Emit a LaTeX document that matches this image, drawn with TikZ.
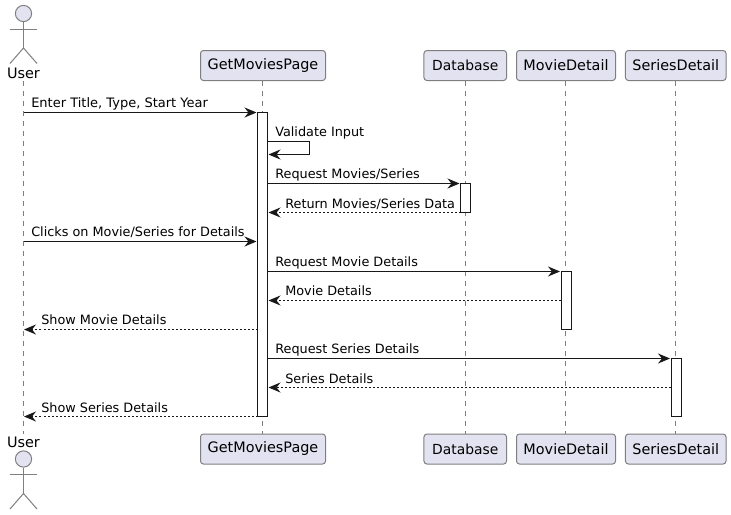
\documentclass[tikz,border=0pt]{standalone}
\usepackage{fontspec}
\setmainfont{DejaVu Sans}
\usetikzlibrary{arrows.meta}
\definecolor{partfill}{HTML}{E2E2F0}
\definecolor{partline}{HTML}{7F7F7F}
\definecolor{ink}{HTML}{181818}
\tikzset{
  x=0.75pt,y=-0.75pt,
  part/.style={draw=partline,fill=partfill,line width=0.75pt,rounded corners=2.2pt,inner sep=0pt,minimum height=22.5pt,font=\fontsize{10.8}{12}\selectfont,text=black},
  partsmall/.style={part,font=\fontsize{10.4}{12}\selectfont},
  actorlabel/.style={inner sep=0pt,font=\fontsize{10.8}{12}\selectfont,text=black},
  lifeline/.style={draw=partline,line width=0.75pt,dash pattern=on 3.75pt off 3.75pt},
  bar/.style={draw=ink,fill=white,line width=0.75pt,inner sep=0pt,minimum width=7.5pt},
  stick/.style={draw=partline,line width=0.75pt},
  head/.style={draw=partline,fill=partfill,line width=0.75pt,circle,inner sep=0pt,minimum size=12.2pt},
  msg/.style={draw=ink,line width=0.75pt,-{Stealth[length=9pt,width=7.5pt,inset=3pt]}},
  reply/.style={msg,dash pattern=on 1.5pt off 1.5pt},
  msglabel/.style={inner sep=0pt,anchor=base west,font=\fontsize{9.62}{12}\selectfont,text=black},
  msglabelwide/.style={msglabel,font=\fontsize{9.75}{12}\selectfont},
}
\begin{document}
\begin{tikzpicture}
\useasboundingbox (0,0) rectangle (731,514);
% top participants
\node[actorlabel] (userT) at (23.5,73) {User};
\node[part,minimum width=93.75pt] (gmpT) at (263,65.5) {GetMoviesPage};
\node[partsmall,minimum width=61.9pt] (dbT) at (465.25,65.5) {Database};
\node[part,minimum width=74.25pt] (mdT) at (566,65.5) {MovieDetail};
\node[part,minimum width=75.4pt] (sdT) at (675.75,65.5) {SeriesDetail};
% bottom participants
\node[actorlabel] (userB) at (23.5,442) {User};
\node[part,minimum width=93.75pt] (gmpB) at (263,449) {GetMoviesPage};
\node[partsmall,minimum width=61.9pt] (dbB) at (465.25,449) {Database};
\node[part,minimum width=74.25pt] (mdB) at (566,449) {MovieDetail};
\node[part,minimum width=75.4pt] (sdB) at (675.75,449) {SeriesDetail};
% lifelines
\coordinate (uTop) at (23.5,81);
\coordinate (uBot) at (23.5,434);
\coordinate (gTop) at (262.5,81);
\coordinate (gBot) at (262.5,434);
\coordinate (dTop) at (465,81);
\coordinate (dBot) at (465,434);
\coordinate (mTop) at (565,81);
\coordinate (mBot) at (565,434);
\coordinate (sTop) at (675,81);
\coordinate (sBot) at (675,434);
\draw[lifeline] (uTop) -- (uBot);
\draw[lifeline] (gTop) -- (gBot);
\draw[lifeline] (dTop) -- (dBot);
\draw[lifeline] (mTop) -- (mBot);
\draw[lifeline] (sTop) -- (sBot);
% activation bars
\node[bar,minimum height=228pt] (gBar) at (262.5,264.5) {};
\node[bar,minimum height=21.75pt] (dBar) at (465.5,198) {};
\node[bar,minimum height=43.5pt] (mBar) at (566,300) {};
\node[bar,minimum height=43.5pt] (sBar) at (676,387) {};
% actors
\node[head] (headT) at (23.5,13.5) {};
\coordinate (hipT) at (23.5,48);
\coordinate (armLT) at (10,29);
\coordinate (armRT) at (37,29);
\coordinate (legLT) at (10,63.5);
\coordinate (legRT) at (37,63.5);
\draw[stick] (headT) -- (hipT);
\draw[stick] (armLT) -- (armRT);
\draw[stick] (legLT) -- (hipT) -- (legRT);
\node[head] (headB) at (23.5,459) {};
\coordinate (hipB) at (23.5,493.5);
\coordinate (armLB) at (10,474.5);
\coordinate (armRB) at (37,474.5);
\coordinate (legLB) at (10,509);
\coordinate (legRB) at (37,509);
\draw[stick] (headB) -- (hipB);
\draw[stick] (armLB) -- (armRB);
\draw[stick] (legLB) -- (hipB) -- (legRB);
% messages
\coordinate (a1) at (23.5,112.5);   \coordinate (b1) at (256.5,112.5);
\draw[msg] (a1) -- (b1);
\node[msglabelwide] (l1) at (31,107) {Enter Title, Type, Start Year};
\coordinate (a2) at (267.5,141.5);  \coordinate (c2) at (309.5,141.5);
\coordinate (d2) at (309.5,154.5);  \coordinate (b2) at (268.5,154.5);
\draw[msg] (a2) -- (c2) -- (d2) -- (b2);
\node[msglabel] (l2) at (275,136) {Validate Input};
\coordinate (a3) at (267.5,183.5);  \coordinate (b3) at (459.5,183.5);
\draw[msg] (a3) -- (b3);
\node[msglabel] (l3) at (275,178) {Request Movies/Series};
\coordinate (a4) at (460.5,212.5);  \coordinate (b4) at (268.5,212.5);
\draw[reply] (a4) -- (b4);
\node[msglabel] (l4) at (285,208) {Return Movies/Series Data};
\coordinate (a5) at (23.5,241.5);   \coordinate (b5) at (256.5,241.5);
\draw[msg] (a5) -- (b5);
\node[msglabel] (l5) at (31,236) {Clicks on Movie/Series for Details};
\coordinate (a6) at (267.5,271.5);  \coordinate (b6) at (560,271.5);
\draw[msg] (a6) -- (b6);
\node[msglabel] (l6) at (275,266) {Request Movie Details};
\coordinate (a7) at (561,300.5);    \coordinate (b7) at (268.5,300.5);
\draw[reply] (a7) -- (b7);
\node[msglabel] (l7) at (285,295) {Movie Details};
\coordinate (a8) at (257.5,329.5);  \coordinate (b8) at (24,329.5);
\draw[reply] (a8) -- (b8);
\node[msglabel] (l8) at (41,324) {Show Movie Details};
\coordinate (a9) at (267.5,358.5);  \coordinate (b9) at (670,358.5);
\draw[msg] (a9) -- (b9);
\node[msglabel] (l9) at (275,353) {Request Series Details};
\coordinate (a10) at (671,387.5);   \coordinate (b10) at (268.5,387.5);
\draw[reply] (a10) -- (b10);
\node[msglabel] (l10) at (285,383) {Series Details};
\coordinate (a11) at (257.5,416.5); \coordinate (b11) at (24,416.5);
\draw[reply] (a11) -- (b11);
\node[msglabel] (l11) at (41,412) {Show Series Details};
\end{tikzpicture}
\end{document}
